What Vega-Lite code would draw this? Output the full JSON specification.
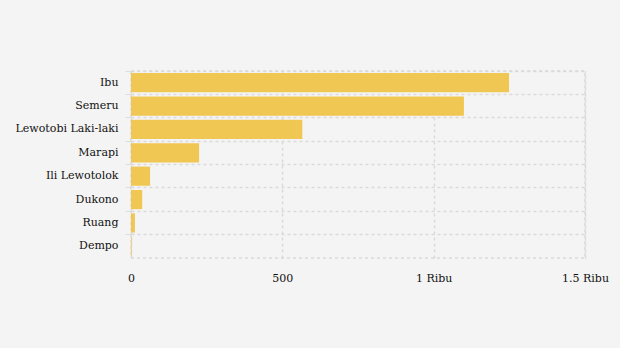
{
  "$schema": "https://vega.github.io/schema/vega-lite/v6.json",
  "width": 454,
  "height": 187,
  "autosize": "none",
  "padding": {"left": 131, "top": 71, "right": 35, "bottom": 90},
  "background": "#f4f4f4",
  "config": {
    "font": "DejaVu Serif",
    "view": {"stroke": "#d9d9d9", "strokeDash": [3, 3], "strokeWidth": 1.5}
  },
  "data": {
    "values": [
      {"gunung": "Ibu", "nilai": 1249},
      {"gunung": "Semeru", "nilai": 1100},
      {"gunung": "Lewotobi Laki-laki", "nilai": 566},
      {"gunung": "Marapi", "nilai": 225},
      {"gunung": "Ili Lewotolok", "nilai": 63},
      {"gunung": "Dukono", "nilai": 37},
      {"gunung": "Ruang", "nilai": 13},
      {"gunung": "Dempo", "nilai": 2}
    ]
  },
  "mark": {"type": "bar", "color": "#f0c752", "height": {"band": 0.82}},
  "encoding": {
    "y": {
      "field": "gunung",
      "type": "nominal",
      "sort": null,
      "scale": {"paddingInner": 0, "paddingOuter": 0},
      "axis": {
        "title": null,
        "domain": false,
        "tickSize": 6,
        "tickColor": "#dddddd",
        "labelPadding": 7,
        "labelFontSize": 11,
        "labelColor": "#111111",
        "grid": true,
        "bandPosition": 0,
        "gridColor": "#d9d9d9",
        "gridDash": [3, 3],
        "gridWidth": 1.5
      }
    },
    "x": {
      "field": "nilai",
      "type": "quantitative",
      "scale": {"domain": [0, 1500], "nice": false},
      "axis": {
        "title": null,
        "domain": false,
        "ticks": false,
        "values": [0, 500, 1000, 1500],
        "labelExpr": "datum.value >= 1000 ? format(datum.value/1000, '.2~f') + ' Ribu' : datum.value",
        "labelPadding": 14,
        "labelFontSize": 11,
        "labelColor": "#111111",
        "labelFlush": false,
        "gridColor": "#d9d9d9",
        "gridDash": [3, 3],
        "gridWidth": 1.5
      }
    }
  }
}
